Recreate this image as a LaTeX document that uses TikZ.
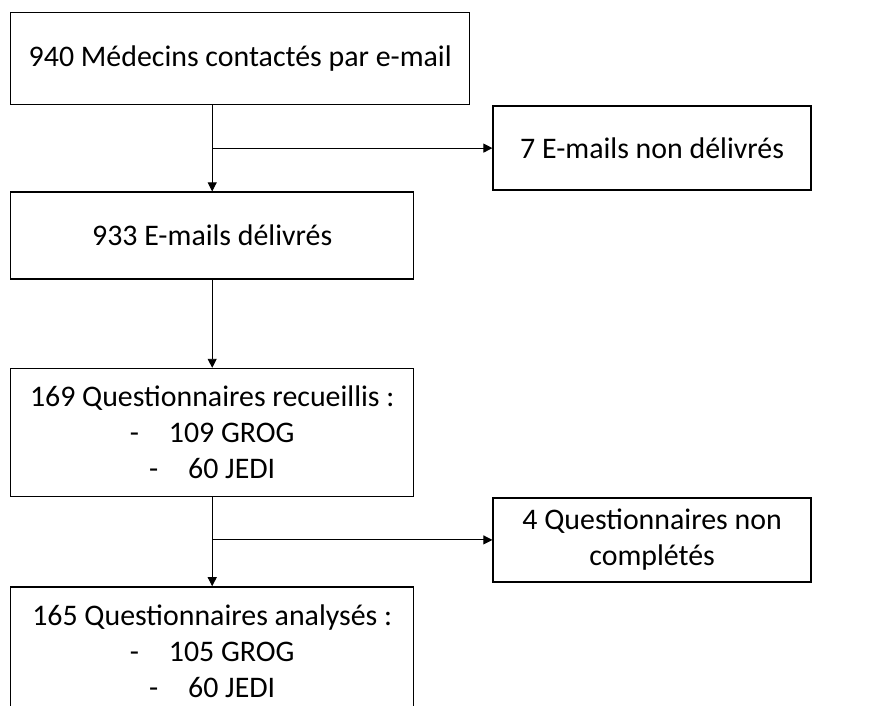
\documentclass[tikz,border=0pt]{standalone}
\usepackage{fontspec}
\setmainfont{Carlito}
\usetikzlibrary{positioning,arrows.meta}
\tikzset{flow box/.style={draw,line width=0.8pt,align=center,inner sep=0pt,
    font=\fontsize{17}{20.4}\selectfont},
  flow arrow/.style={draw,line width=0.5pt,-{Triangle[length=0.18cm,width=0.18cm]}},
}

\begin{document}
\begin{tikzpicture}
				\useasboundingbox (0,0) rectangle (17.6,-14.12);
				\node[flow box,minimum width=9.18cm,minimum height=1.84cm,anchor=north west] (contact) at (0.2,-0.24) {940 Médecins contactés par e-mail};
				\node[flow box,minimum width=6.36cm,minimum height=1.68cm] (nondeliv) [below right=0cm and 0.44cm of contact.south east] {7 E-mails non délivrés};
				\node[flow box,minimum width=8.06cm,minimum height=1.74cm] (deliv) [below right=1.72cm and 0cm of contact.south west] {933 E-mails délivrés};
				\node[flow box,minimum width=8.06cm,minimum height=2.56cm] (recu) [below right=1.76cm and 0cm of deliv.south west] {169 Questionnaires recueillis :\\ -\hspace{1em}109 GROG\\ -\hspace{1em}60 JEDI};
				\node[flow box,minimum width=6.36cm,minimum height=1.68cm] (noncomp) [below right=0cm and 1.56cm of recu.south east] {4 Questionnaires non\\ complétés};
				\node[flow box,minimum width=8.06cm,minimum height=2.56cm] (analyse) [below right=1.78cm and 0cm of recu.south west] {165 Questionnaires analysés :\\ -\hspace{1em}105 GROG\\ -\hspace{1em}60 JEDI};
				
				\coordinate (split1) at (nondeliv.west -| deliv.north);
				\coordinate (split2) at (noncomp.west -| analyse.north);
				
				\path[flow arrow]
				(contact.south -| deliv.north) -- (deliv.north);
				\path[flow arrow] (split1) -- (nondeliv.west);
				\path[flow arrow] (deliv.south) -- (recu.north);
				\path[flow arrow] (recu.south) -- (analyse.north);
				\path[flow arrow] (split2) -- (noncomp.west);
				
			\end{tikzpicture}
\end{document}
